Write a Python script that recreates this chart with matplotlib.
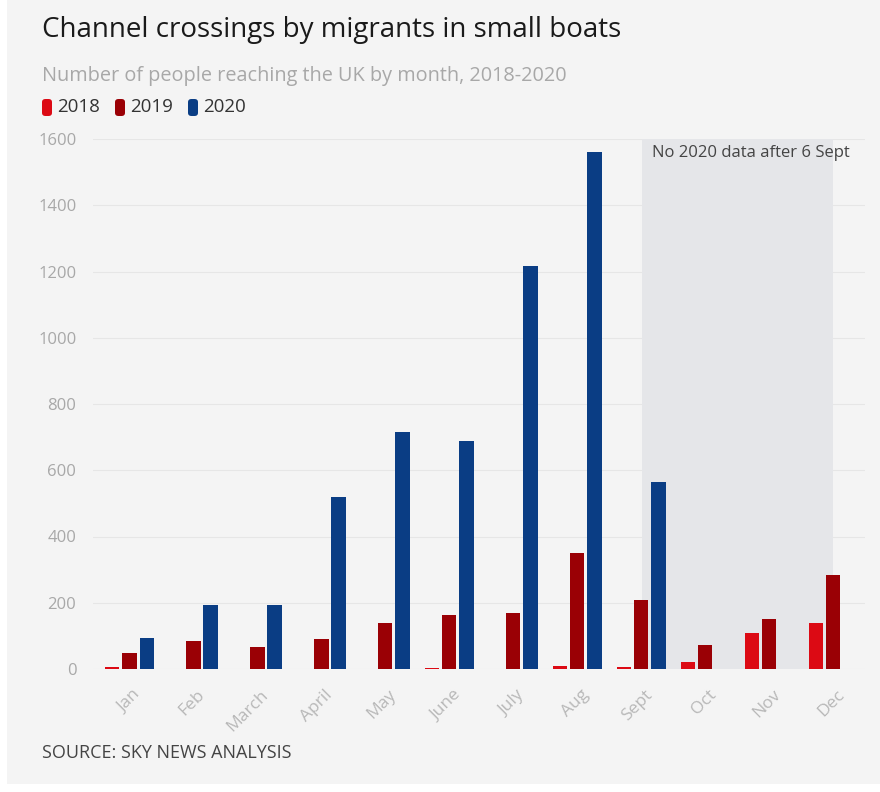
import numpy as np
import matplotlib.pyplot as plt
from matplotlib.patches import Rectangle, FancyBboxPatch

# Monthly small-boat arrivals
months = ['Jan', 'Feb', 'March', 'April', 'May', 'June',
          'July', 'Aug', 'Sept', 'Oct', 'Nov', 'Dec']
y2018 = [7, 0, 0, 0, 0, 4, 0, 9, 6, 22, 109, 139]
y2019 = [48, 85, 66, 90, 139, 163, 169, 350, 208, 71, 150, 283]
y2020 = [95, 193, 193, 519, 715, 688, 1217, 1561, 565]
years = ['2018', '2019', '2020']
colors = ['#dc0a14', '#9a0005', '#0a3d84']

plt.rcParams['font.family'] = ['Open Sans', 'DejaVu Sans']

fig = plt.figure(figsize=(8.8, 7.92), dpi=100)
fig.patch.set_facecolor('white')
# light grey panel behind the whole graphic
fig.patches.append(Rectangle((7 / 880, 0.01), 1, 0.99, transform=fig.transFigure,
                             facecolor='#f4f4f4', edgecolor='none', zorder=-5))

ax = fig.add_axes([93 / 880, 1 - 669 / 792, (865 - 93) / 880, (669 - 139) / 792])
ax.set_facecolor('none')

x = np.arange(len(months))
step, width = 0.27, 0.225
ax.bar(x - step, y2018, width, color=colors[0], zorder=3)
ax.bar(x, y2019, width, color=colors[1], zorder=3)
ax.bar(x[:len(y2020)] + step, y2020, width, color=colors[2], zorder=3)

# shaded period with no 2020 data
ax.axvspan(8.02, 11.0, color='#e5e6e9', zorder=1, lw=0)
ax.text(8.17, 1582, 'No 2020 data after 6 Sept', fontsize=12, color='#444444',
        va='top', ha='left', zorder=4)

ax.set_xlim(-0.57, 11.5)
ax.set_ylim(0, 1600)
ax.set_yticks(range(0, 1601, 200))
ax.yaxis.grid(True, color='#e6e6e6', lw=0.8, zorder=0)
ax.set_axisbelow(True)
ax.set_xticks(x + 0.05)
ax.set_xticklabels(months, rotation=45, ha='right', rotation_mode='anchor')
ax.tick_params(axis='x', colors='#b8b8b8', labelsize=12.5, length=0, pad=13)
ax.tick_params(axis='y', colors='#a8a8a8', labelsize=12, length=0, pad=12)
for s in ax.spines.values():
    s.set_visible(False)

fig.text(42 / 880, 1 - 30 / 792, 'Channel crossings by migrants in small boats',
         fontsize=20, color='#1a1a1a', va='center', ha='left')
fig.text(42 / 880, 1 - 76 / 792, 'Number of people reaching the UK by month, 2018-2020',
         fontsize=14.3, color='#a8a8a8', va='center', ha='left')

# legend swatches
lx = 42
for yr, c in zip(years, colors):
    fig.patches.append(FancyBboxPatch((lx / 880, 1 - 116 / 792), 10 / 880, 17 / 792,
                                      boxstyle='round,pad=0,rounding_size=0.004',
                                      transform=fig.transFigure, facecolor=c,
                                      edgecolor='none', zorder=2))
    fig.text((lx + 15) / 880, 1 - 107 / 792, yr, fontsize=13.5, color='#333333',
             va='center', ha='left')
    lx += 73

fig.text(42 / 880, 1 - 753 / 792, 'SOURCE: SKY NEWS ANALYSIS', fontsize=13,
         color='#444444', va='center', ha='left')

fig.savefig('out.png', dpi=100, facecolor=fig.get_facecolor())
